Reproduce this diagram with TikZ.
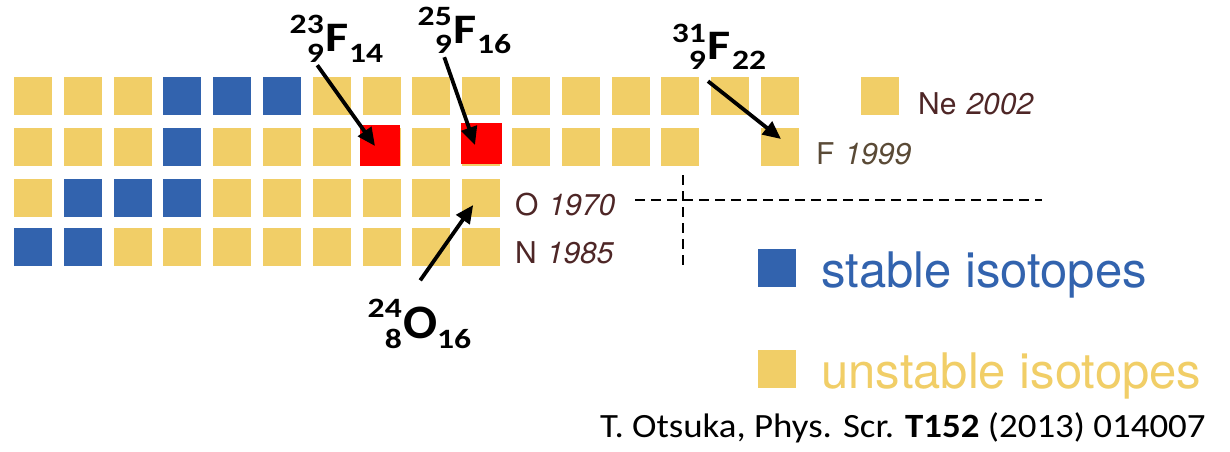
\documentclass[tikz,border=0pt]{standalone}
\usepackage{fontspec}
\usepackage{graphicx}
\newfontfamily\helv{TeX Gyre Heros}
\newfontfamily\calfont{Carlito}
\usetikzlibrary{arrows.meta,calc}
\definecolor{isoyellow}{HTML}{F1CE67}
\definecolor{isoblue}{HTML}{3263AE}
\definecolor{labbrown}{HTML}{4E2626}
\definecolor{labolive}{HTML}{5A4A36}
% horizontally widened text for the symbol labels and the reference line
\newcommand\stretchx[2][1.2]{\scalebox{#1}[1]{#2}}
\tikzset{
  sq/.style={rectangle, minimum size=38pt, inner sep=0pt, fill=isoyellow},
  stab/.style={sq, fill=isoblue},
  hit/.style={rectangle, minimum size=40.5pt, inner sep=0pt, fill=red},
  rowlab/.style={anchor=base west, inner sep=0pt, text=labbrown,
    font=\helv\fontsize{30}{36}\selectfont},
  leg/.style={anchor=base west, inner sep=0pt, font=\helv\fontsize{49}{58}\selectfont},
  big/.style={inner sep=0pt, font=\calfont\bfseries\fontsize{42}{50}\selectfont},
  bigO/.style={inner sep=0pt, font=\calfont\bfseries\fontsize{48}{56}\selectfont},
  num/.style={inner sep=0pt, font=\calfont\bfseries\fontsize{28}{33}\selectfont},
  cite/.style={anchor=base west, inner sep=0pt, font=\calfont\fontsize{34}{40}\selectfont},
  arr/.style={line width=3.8pt, -{Triangle[length=18pt,width=16pt]}},
  cut/.style={line width=1.8pt, dash pattern=on 10pt off 6pt},
}
\begin{document}
\begin{tikzpicture}[x=1pt,y=-1pt]
\useasboundingbox (0,0) rectangle (1230,451);
\fill[white] (0,0) rectangle (1230,451);

% chart of nuclides: rows Ne, F, O, N
\foreach \c in {1,2,3,7,8,...,16,18}
  \node[sq] (s1-\c) at ({33+49.8*(\c-1)},96) {};
\foreach \c in {4,5,6}
  \node[stab] (s1-\c) at ({33+49.8*(\c-1)},96) {};
\foreach \c in {1,2,3,5,6,...,14,16}
  \node[sq] (s2-\c) at ({33+49.8*(\c-1)},147) {};
\node[stab] (s2-4) at ({33+49.8*3},147) {};
\node[sq] (s3-1) at (33,198) {};
\foreach \c in {2,3,4}
  \node[stab] (s3-\c) at ({33+49.8*(\c-1)},198) {};
\foreach \c in {5,6,...,10}
  \node[sq] (s3-\c) at ({33+49.8*(\c-1)},198) {};
\foreach \c in {1,2}
  \node[stab] (s4-\c) at ({33+49.8*(\c-1)},247) {};
\foreach \c in {3,4,...,10}
  \node[sq] (s4-\c) at ({33+49.8*(\c-1)},247) {};

% highlighted fluorine isotopes
\node[hit] (hit23) at (380,145.5) {};
\node[hit] (hit25) at (481.5,143.5) {};

% element labels with discovery year of the drip line
\node[rowlab] (lne) at (918,114) {Ne\,\,\textit{2002}};
\node[rowlab, text=labolive] (lf) at (816,164) {F\,\,\textit{1999}};
\node[rowlab] (lo) at (515,215) {O\,\,\textit{1970}};
\node[rowlab] (ln) at (515,263) {N\,\,\textit{1985}};

% drip-line guides
\draw[cut] (635,200) -- (1042,200);
\draw[cut] (683,175) -- (683,269);

% isotope symbols
\node[num, anchor=base east] (a23) at (324,33) {\stretchx{23}};
\node[num, anchor=base east] (z23) at (324,62) {\stretchx{9}};
\node[big, anchor=base west] (f23) at (325,51) {\stretchx{F}};
\node[num, anchor=base west] (n23) at (349,62) {\stretchx{14}};

\node[num, anchor=base east] (a25) at (452,25) {\stretchx{25}};
\node[num, anchor=base east] (z25) at (452,53) {\stretchx{9}};
\node[big, anchor=base west] (f25) at (453,43) {\stretchx{F}};
\node[num, anchor=base west] (n25) at (477,53) {\stretchx{16}};

\node[num, anchor=base east] (a31) at (706,42) {\stretchx{31}};
\node[num, anchor=base east] (z31) at (706,69) {\stretchx{9}};
\node[big, anchor=base west] (f31) at (707,59) {\stretchx{F}};
\node[num, anchor=base west] (n31) at (732,69) {\stretchx{22}};

\node[num, anchor=base east] (a24) at (402,317) {\stretchx{24}};
\node[num, anchor=base east] (z24) at (402,348) {\stretchx{8}};
\node[bigO, anchor=base west] (o24) at (403,338) {\stretchx[1.05]{O}};
\node[num, anchor=base west] (n24) at (437,348) {\stretchx{16}};

% pointers
\draw[arr] ($(z23.south)+(2,3)$) -- ($(hit23.center)+(-5,0.5)$);
\draw[arr] ($(z25.south)+(1,4)$) -- ($(hit25.center)+(-6.5,1.5)$);
\draw[arr] ($(z31.south east)+(2,12)$) -- ($(s2-16.center)+(1,-8)$);
\draw[arr] ($(o24.north)+(0,-26)$) -- ($(s3-10.center)+(-8,7)$);

% legend
\node[stab] (kst) at (777,268) {};
\node[sq] (kun) at (777,369) {};
\node[leg, text=isoblue] (tst) at (821,287) {stable isotopes};
\node[leg, text=isoyellow] (tun) at (821,388) {unstable isotopes};

% reference
\node[cite] (ref) at (600,437) {\stretchx[1.085]{T. Otsuka, Phys. Scr. \textbf{T152} (2013) 014007}};
\end{tikzpicture}
\end{document}
